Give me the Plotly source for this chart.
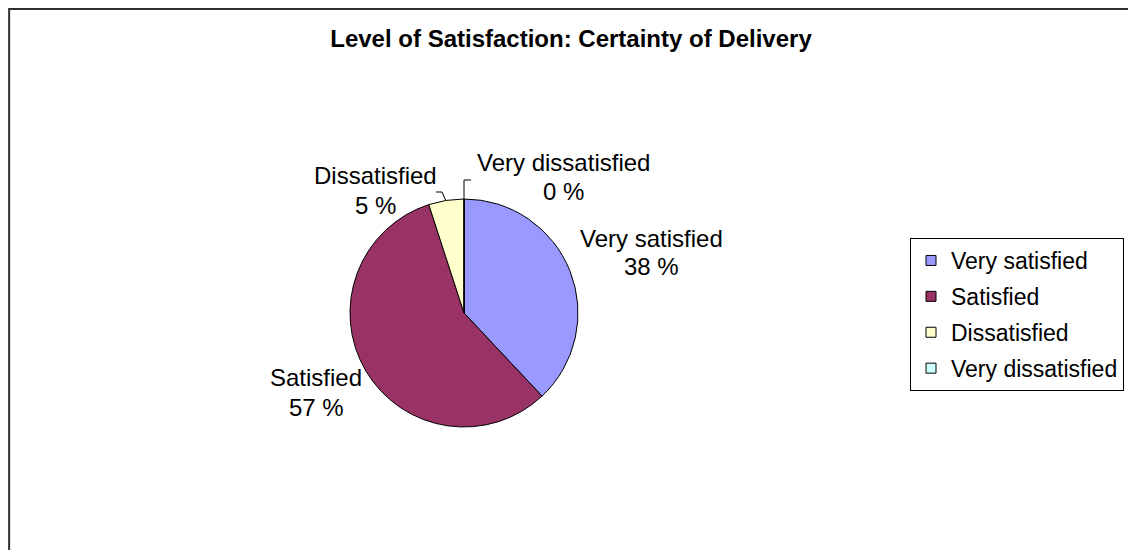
import plotly.graph_objects as go

W, H = 1136, 550

# ---- data ----
categories = ["Very satisfied", "Satisfied", "Dissatisfied", "Very dissatisfied"]
percent_values = [38, 57, 5, 0]
slice_colors = ["#9999FF", "#993366", "#FFFFCC", "#CCFFFF"]
title_text = "Level of Satisfaction: Certainty of Delivery"

FONT = "Liberation Sans, Arial, sans-serif"
OFF = 8  # page body margin offset in the screenshot


def px(x, y):
    """screenshot pixel -> paper coords"""
    return (x - OFF) / W, 1 - (y - OFF) / H


# pie geometry (screenshot pixels)
cx, cy, r = 464, 313, 114
x0, y1 = px(cx - r, cy - r)
x1, y0 = px(cx + r, cy + r)

fig = go.Figure()
fig.add_trace(
    go.Pie(
        labels=categories,
        values=percent_values,
        sort=False,
        direction="clockwise",
        rotation=0,
        marker=dict(colors=slice_colors, line=dict(color="black", width=1)),
        textinfo="none",
        hoverinfo="label+percent",
        domain=dict(x=[x0, x1], y=[y0, y1]),
        showlegend=False,
    )
)

# legend entries (one group per category so the spacing can match)
for cat, col in zip(categories, slice_colors):
    fig.add_trace(
        go.Scatter(
            x=[None], y=[None], mode="markers", name=cat, legendgroup=cat,
            marker=dict(symbol="square", size=10, color=col,
                        line=dict(color="black", width=1)),
            hoverinfo="skip", showlegend=True,
        )
    )

# label placement (screenshot pixel centres of name line / value line)
label_pos = {
    "Very satisfied": ((651, 238), (651, 266)),
    "Satisfied": ((316, 377), (316, 407)),
    "Dissatisfied": ((375, 176), (375, 205)),
    "Very dissatisfied": ((563, 162), (563, 191)),
}

annotations = []
for cat, val in zip(categories, percent_values):
    (ax1, ay1), (ax2, ay2) = label_pos[cat]
    for (xx, yy), txt in (((ax1, ay1), cat), ((ax2, ay2), f"{val:.0f} %")):
        X, Y = px(xx, yy)
        annotations.append(
            dict(
                x=X, y=Y, xref="paper", yref="paper", text=txt, showarrow=False,
                xanchor="center", yanchor="middle",
                font=dict(family=FONT, size=24, color="black"),
            )
        )

shapes = []


def poly(points, color="black", width=1):
    path = ""
    for i, (x, y) in enumerate(points):
        X, Y = px(x, y)
        path += ("M" if i == 0 else "L") + f"{X},{Y} "
    shapes.append(dict(type="path", path=path, xref="paper", yref="paper",
                       line=dict(color=color, width=width)))


# leader lines
poly([(464, 199), (464, 180), (471, 180)])
poly([(446, 201), (442, 192), (436, 192)])
# chart border
shapes.append(dict(type="rect", xref="paper", yref="paper", x0=0.001, y0=0.001,
                   x1=0.999, y1=0.998, line=dict(color="#303030", width=2)))

TX, TY = px(571, 39)
fig.update_layout(
    width=W, height=H,
    margin=dict(l=0, r=0, t=0, b=0),
    paper_bgcolor="white", plot_bgcolor="white",
    xaxis=dict(visible=False), yaxis=dict(visible=False),
    title=dict(text=f"<b>{title_text}</b>", x=TX, xanchor="center",
               y=TY, yanchor="middle",
               font=dict(family=FONT, size=24, color="black")),
    legend=dict(
        x=px(910, 0)[0], y=px(0, 238)[1], xanchor="left", yanchor="top",
        bordercolor="black", borderwidth=1, bgcolor="white",
        font=dict(family=FONT, size=23, color="black"),
        traceorder="grouped", tracegroupgap=3,
    ),
    annotations=annotations,
    shapes=shapes,
)

fig.write_html("out.html")
